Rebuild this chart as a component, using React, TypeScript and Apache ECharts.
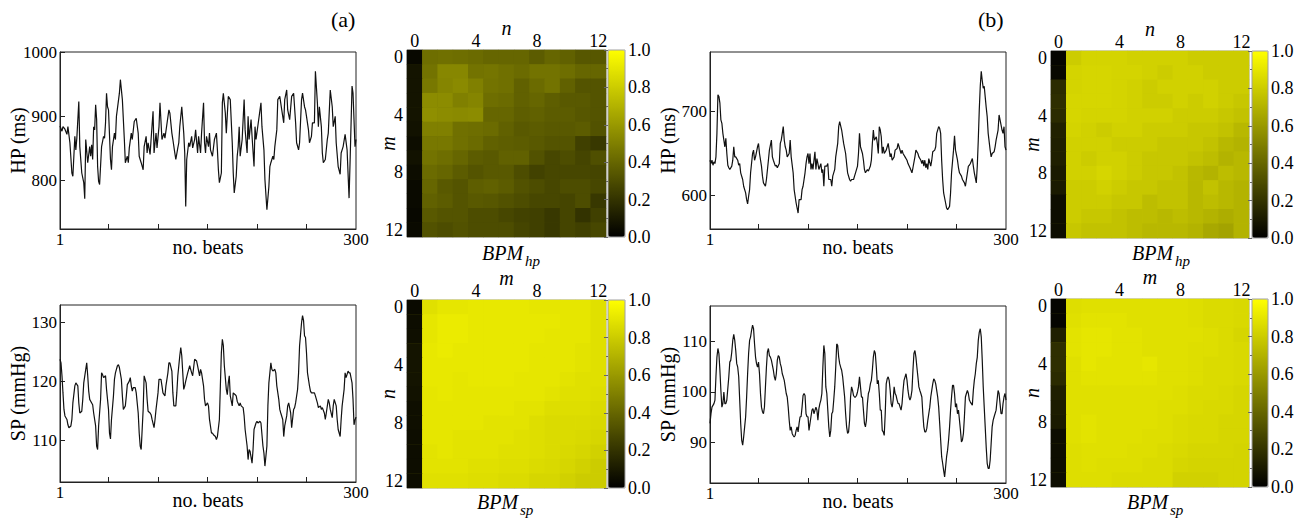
import React, { useEffect, useRef } from "react";
import * as echarts from "echarts";

const SERIF = "Liberation Serif";

// ---------- axis ticks / labels ----------
const BEAT_TICKS = [50, 100, 150, 200, 250];
const BEAT_LABELS = [1, 300];
const LAGS = ["0", "1", "2", "3", "4", "5", "6", "7", "8", "9", "10", "11", "12"];
const HP_A_TICKS = [800, 900, 1000];
const HP_B_TICKS = [600, 700];
const SP_A_TICKS = [110, 120, 130];
const SP_B_TICKS = [90, 100, 110];

// ---------- (a) HP series ----------
const HP_A_BEATS = [
  1, 3, 4, 6, 8, 9, 11, 13, 14, 16,
  17, 18, 20, 21, 23, 25, 26, 27, 29, 31,
  32, 33, 34, 35, 36, 37, 38, 39, 40, 41,
  43, 45, 46, 47, 48, 49, 50, 52, 53, 54,
  56, 57, 58, 61, 62, 64, 66, 67, 69, 70,
  71, 73, 74, 76, 78, 80, 81, 83, 85, 86,
  88, 89, 90, 92, 93, 95, 96, 98, 99, 101,
  102, 104, 106, 107, 111, 112, 114, 115, 117, 118,
  120, 121, 122, 124, 126, 127, 128, 129, 131, 132,
  134, 135, 137, 138, 140, 141, 143, 144, 146, 147,
  148, 149, 151, 152, 153, 155, 157, 159, 160, 161,
  162, 164, 165, 166, 168, 169, 171, 173, 175, 176,
  177, 179, 180, 181, 182, 183, 185, 187, 188, 190,
  191, 192, 194, 195, 197, 198, 199, 204, 205, 207,
  208, 210, 212, 213, 214, 216, 217, 218, 220, 221,
  223, 225, 227, 228, 230, 231, 233, 235, 237, 239,
  240, 242, 243, 245, 246, 248, 249, 250, 252, 253,
  255, 256, 258, 259, 261, 262, 263, 265, 266, 267,
  269, 271, 272, 274, 276, 277, 279, 280, 282, 284,
  285, 287, 289, 291, 293, 294, 296, 297, 299, 300,
];
const HP_A_MS = [
  885, 877, 884, 880, 872, 884, 859, 812, 807, 869,
  848, 866, 923, 853, 812, 797, 772, 864, 828, 853,
  838, 856, 833, 884, 879, 918, 895, 822, 799, 794,
  853, 869, 866, 890, 936, 915, 910, 833, 817, 853,
  874, 864, 900, 936, 957, 926, 864, 828, 838, 828,
  851, 874, 864, 892, 897, 874, 838, 828, 817, 853,
  869, 843, 859, 841, 864, 908, 843, 874, 851, 884,
  921, 864, 874, 866, 910, 905, 874, 864, 843, 833,
  851, 859, 884, 915, 874, 843, 760, 833, 859, 853,
  869, 851, 864, 879, 843, 869, 843, 874, 921, 859,
  843, 869, 853, 874, 848, 838, 864, 874, 848, 817,
  797, 812, 921, 936, 905, 874, 931, 926, 859, 812,
  781, 807, 838, 853, 884, 838, 864, 926, 879, 843,
  900, 864, 895, 869, 822, 884, 864, 921, 884, 848,
  802, 755, 791, 822, 828, 838, 833, 853, 879, 926,
  931, 910, 890, 926, 941, 910, 895, 931, 936, 890,
  859, 848, 859, 926, 936, 915, 910, 900, 879, 859,
  869, 890, 890, 970, 921, 884, 915, 884, 843, 828,
  833, 864, 874, 941, 915, 884, 900, 859, 822, 810,
  843, 853, 872, 848, 773, 828, 947, 936, 853, 864,
];

// ---------- (b) HP series ----------
const HP_B_BEATS = [
  1, 2, 3, 4, 5, 6, 7, 8, 9, 10,
  11, 12, 13, 14, 15, 16, 17, 18, 19, 20,
  21, 23, 24, 25, 26, 27, 29, 30, 31, 32,
  34, 35, 37, 38, 39, 40, 41, 42, 44, 45,
  46, 47, 49, 50, 51, 53, 54, 55, 57, 58,
  60, 61, 63, 64, 65, 67, 68, 69, 71, 72,
  73, 74, 75, 76, 77, 78, 79, 81, 82, 83,
  85, 86, 88, 90, 91, 93, 94, 95, 97, 98,
  99, 100, 101, 102, 103, 104, 105, 107, 108, 109,
  110, 111, 113, 114, 115, 116, 117, 119, 120, 121,
  123, 124, 125, 127, 128, 130, 131, 132, 134, 135,
  136, 138, 139, 140, 142, 143, 144, 146, 147, 148,
  150, 151, 152, 153, 155, 156, 157, 158, 160, 161,
  163, 164, 165, 166, 167, 169, 170, 171, 172, 173,
  174, 175, 176, 177, 179, 180, 181, 183, 184, 185,
  187, 188, 190, 191, 192, 194, 195, 196, 198, 200,
  201, 203, 205, 206, 208, 209, 211, 212, 214, 215,
  216, 217, 218, 219, 220, 221, 222, 224, 225, 226,
  228, 229, 230, 232, 233, 234, 235, 236, 237, 239,
  240, 241, 243, 244, 245, 247, 248, 249, 251, 252,
  253, 255, 256, 258, 259, 260, 262, 263, 264, 266,
  267, 268, 270, 271, 272, 273, 274, 275, 276, 277,
  278, 280, 281, 282, 284, 285, 286, 288, 289, 290,
  292, 293, 294, 296, 297, 298, 299, 300,
];
const HP_B_MS = [
  642, 638, 642, 636, 640, 638, 646, 674, 720, 718,
  710, 690, 686, 674, 666, 658, 668, 650, 636, 633,
  631, 635, 642, 658, 646, 646, 642, 636, 638, 627,
  619, 611, 603, 595, 590, 599, 607, 627, 650, 654,
  642, 646, 658, 662, 650, 635, 623, 615, 611, 619,
  642, 654, 666, 646, 642, 635, 636, 633, 638, 662,
  666, 674, 682, 666, 658, 654, 646, 650, 666, 646,
  627, 607, 591, 579, 595, 595, 607, 611, 627, 638,
  646, 650, 638, 650, 631, 638, 631, 652, 631, 644,
  638, 631, 638, 627, 631, 611, 635, 635, 638, 619,
  619, 611, 623, 631, 646, 662, 682, 688, 678, 670,
  662, 650, 638, 627, 619, 617, 619, 619, 623, 627,
  635, 650, 674, 658, 650, 642, 631, 627, 631, 629,
  635, 642, 662, 678, 666, 670, 662, 650, 682, 678,
  670, 650, 658, 650, 654, 658, 662, 646, 650, 642,
  646, 654, 656, 662, 658, 650, 654, 650, 646, 642,
  638, 633, 627, 633, 646, 654, 650, 646, 642, 638,
  642, 635, 642, 633, 638, 631, 644, 635, 642, 652,
  654, 658, 674, 682, 680, 674, 642, 619, 603, 591,
  585, 583, 587, 603, 627, 654, 671, 654, 642, 633,
  627, 623, 619, 615, 611, 619, 635, 636, 638, 644,
  635, 627, 615, 635, 666, 702, 730, 748, 737, 728,
  730, 705, 694, 674, 654, 646, 650, 652, 658, 666,
  678, 696, 690, 678, 674, 682, 658, 654,
];

// ---------- (a) SP series ----------
const SP_A_BEATS = [
  1, 2, 3, 4, 5, 6, 8, 9, 10, 12,
  13, 14, 16, 17, 19, 20, 21, 23, 24, 25,
  27, 28, 29, 30, 31, 33, 34, 35, 37, 38,
  39, 40, 42, 43, 44, 45, 47, 48, 50, 51,
  52, 53, 55, 56, 57, 59, 60, 61, 63, 64,
  65, 67, 68, 69, 71, 72, 73, 74, 75, 77,
  78, 80, 81, 82, 83, 85, 86, 88, 89, 90,
  92, 93, 94, 96, 97, 98, 100, 101, 103, 104,
  105, 107, 108, 110, 111, 112, 114, 115, 116, 118,
  119, 120, 122, 123, 124, 126, 127, 128, 130, 131,
  132, 134, 135, 136, 137, 139, 140, 142, 143, 144,
  146, 147, 148, 150, 151, 152, 154, 155, 156, 158,
  159, 160, 162, 163, 164, 165, 166, 167, 169, 170,
  171, 172, 173, 175, 176, 178, 179, 180, 182, 183,
  184, 186, 187, 188, 190, 191, 192, 193, 195, 196,
  197, 199, 200, 201, 203, 204, 206, 207, 208, 210,
  211, 212, 214, 215, 216, 218, 219, 220, 222, 223,
  224, 226, 227, 228, 230, 231, 232, 234, 235, 237,
  238, 239, 241, 242, 243, 245, 246, 247, 248, 249,
  250, 251, 253, 254, 255, 257, 258, 259, 261, 262,
  264, 265, 266, 268, 269, 270, 272, 273, 274, 276,
  277, 278, 280, 281, 282, 284, 285, 286, 288, 289,
  290, 292, 293, 294, 296, 297, 298, 299, 300,
];
const SP_A_MMHG = [
  123.8, 123.2, 121, 118.1, 115.3, 114.2, 113.6, 112.7, 112.2, 112.5,
  113.6, 116.4, 119.3, 119.8, 119.3, 116.4, 114.7, 115, 117, 119.8,
  122.1, 123.2, 121, 118.4, 117, 116.4, 116.1, 114.7, 112.5, 109.1,
  108.5, 112.5, 117, 121.5, 121.2, 120.7, 121, 118.7, 115.3, 111.3,
  110.3, 113.6, 117.6, 120.4, 121.5, 122.7, 122.9, 122.4, 120.4, 117.6,
  115.3, 115.9, 117.6, 119.5, 120.1, 120.7, 119.3, 118.4, 119, 119,
  118.1, 114.7, 111.3, 109.1, 108.5, 115.3, 121, 119.8, 117, 115,
  114.7, 114.4, 113.6, 112.2, 113.6, 115.3, 118.1, 120.4, 120.4, 119.3,
  118.1, 117.6, 119.3, 121.5, 123.2, 123.2, 121.8, 118.1, 115.9, 115.9,
  118.1, 121, 124.4, 125.8, 124.4, 118.7, 119.3, 120.1, 121.5, 122.1,
  122.7, 121.5, 121, 122.4, 123.8, 123.5, 122.7, 121, 122.1, 121.5,
  119.3, 117, 115.9, 116.4, 115.9, 113.6, 111.3, 111.3, 111, 110.7,
  110.2, 110.7, 113.6, 119.3, 124.9, 127.2, 126.1, 122.7, 118.7, 117.8,
  119.8, 121, 117.6, 115.9, 118.1, 117.8, 117.6, 116.7, 115.9, 116.4,
  115.9, 115.6, 114.2, 111.9, 109.1, 106.8, 108.5, 108.2, 106.2, 108.5,
  111.9, 113, 113.3, 113, 113.3, 113, 109.1, 107.9, 105.7, 109.1,
  115.9, 119.8, 123.2, 122.1, 121.8, 122.1, 121.5, 119.3, 117, 115.3,
  114.7, 113.6, 110.7, 112.5, 114.2, 115.9, 116.4, 114.7, 112.2, 115.3,
  115.6, 116.4, 118.7, 121.5, 126.1, 130, 131.2, 130.4, 127.8, 127.5,
  124.9, 121.5, 119.3, 118.4, 118.1, 118.1, 118.1, 117.6, 116.4, 115.6,
  115.9, 115.3, 115.6, 114.7, 113.6, 114.7, 117, 116.4, 115.3, 113.9,
  115.9, 117, 115.9, 113.6, 111.9, 110.7, 113.6, 115.9, 118.7, 121.5,
  120.7, 121.8, 121.5, 121.5, 119.8, 117, 112.7, 113.5, 114,
];

// ---------- (b) SP series ----------
const SP_B_BEATS = [
  1, 2, 3, 5, 6, 7, 8, 9, 10, 11, 12, 13, 14, 15, 16, 17, 18,
  20, 21, 22, 23, 24, 25, 26, 27, 28, 29,
  30, 31, 32, 33, 34, 35, 36, 37, 38, 39,
  40, 41, 42, 43, 44, 45, 46, 47, 48, 49,
  50, 51, 52, 53, 54, 55, 56, 57, 58, 59,
  60, 61, 62, 63, 64, 65, 66, 67, 68, 69,
  70, 71, 72, 73, 74, 75, 76, 77, 78, 79,
  80, 81, 82, 83, 84, 85, 86, 87, 88, 89,
  90, 91, 92, 93, 94, 95, 96, 97, 98, 99,
  100, 101, 102, 103, 104, 105, 106,
  108, 109,
  110, 111, 112, 113, 114, 115, 116, 117, 118, 119,
  120, 121, 122, 123, 124, 125, 126, 127, 128, 129,
  130, 131, 132, 133, 134, 135, 136, 137, 138, 139,
  140, 141, 142, 143, 144, 145, 146, 147, 148, 149,
  150, 151, 152, 153, 154, 155, 156, 157, 158, 159,
  160, 161, 162, 163, 164, 165, 166, 167, 168, 169,
  170, 171, 172, 173, 174, 175, 176, 177, 178, 179,
  180, 181, 182, 183, 184, 185, 186, 187, 188, 189,
  190, 191, 192, 193, 194, 195, 196, 197,
  199,
  200, 201, 202, 203, 204, 205, 206, 207, 208, 209,
  210, 211, 212, 213, 214, 215, 216, 217, 218, 219,
  220, 221, 222, 223, 224, 225, 226, 227, 228, 229,
  230, 231, 232, 233, 234, 235, 236, 237, 238, 239,
  240, 241, 242, 243, 244, 245, 246, 247, 248, 249,
  250, 251, 252, 253, 254, 255, 256, 257, 258, 259,
  260, 261, 262, 263, 264, 265, 266, 267, 268, 269,
  270, 271, 272, 273, 274, 275, 276, 277, 278, 279,
  280, 281, 282, 283, 284, 285, 286, 287, 288,
  290, 291, 292, 293, 294, 295, 296, 297, 298, 299, 300,
];
const SP_B_MMHG = [
  93.8, 95.7, 97, 97.7, 98.4, 103, 106.9, 108.6, 107.6, 104.3, 100.3, 97, 97.7, 100, 97.7, 97.7, 98.4,
  103, 105.9, 106.3, 107.9, 110.2, 111.4, 110.2, 108.2, 105.6, 104.9,
  103, 98.4, 93.8, 90.5, 89.5, 91.1, 93.1, 95.1, 99, 103.6,
  107.6, 110.2, 110.9, 112.2, 113.2, 112.5, 109.5, 106.9, 105.6, 104.9,
  105.9, 103.6, 99.7, 97, 96.1, 95.7, 97, 101, 104.9, 107.9,
  108.6, 107.2, 106.9, 106.3, 105.3, 104.3, 103, 102.3, 103.6, 106.3,
  107.2, 106.9, 105.6, 104.9, 103.6, 103, 102.3, 101, 99.7, 99,
  97, 94.4, 92.4, 93.1, 91.8, 91.4, 91.1, 91.4, 92.4, 93.1,
  92.1, 93.8, 95.1, 95.1, 97, 99.3, 99.7, 99.3, 95.7, 95.1,
  95.1, 92.4, 93.8, 95.1, 96.4, 96.7, 95.7,
  97, 96.4,
  94.4, 96.7, 97.7, 98.4, 99.7, 104.9, 109.2, 107.6, 101, 99.7,
  96.4, 93.1, 91.1, 92.4, 95.7, 96.1, 98.4, 101, 104.9, 109.5,
  109.2, 106.9, 105.6, 104.9, 104.3, 103, 101, 99, 95.7, 93.1,
  91.8, 92.1, 94.4, 99, 101, 100.3, 99.3, 99, 99, 99.3,
  100, 101, 103, 101, 99, 99, 96.4, 93.8, 93.1, 94.4,
  97.7, 99.7, 100.3, 101.6, 102.3, 104.3, 106.9, 108.2, 107.6, 104.9,
  101.6, 102.3, 99.7, 96.4, 96.4, 92.4, 92.1, 91.4, 95.7, 101.6,
  102.6, 103, 102.3, 100.3, 97.7, 97, 98.4, 101, 99.7, 99.3,
  98.4, 97.7, 97.7, 97, 96.4, 97.7, 100.3, 102.3,
  103.6,
  102.3, 100.3, 99, 98.4, 99, 100.3, 104.3, 107.6, 108.2, 106.9,
  104.9, 103, 101, 100.3, 99.7, 99, 95.7, 93.1, 92.1, 92.1,
  92.8, 94.4, 95.7, 97, 99, 100.3, 101.6, 102.6, 102.3, 101.6,
  100.3, 99, 97, 93.8, 90.5, 87.2, 85.9, 84.5, 83.2, 85.2,
  87.2, 88.5, 90.5, 93.1, 96.4, 99, 101.3, 101.3, 99.7, 97,
  97.7, 95.7, 96.4, 94.4, 92.4, 90.1, 90.5, 91.8, 95.1, 99,
  99.7, 100.3, 99.7, 98.4, 98, 97.7, 97.4, 100.3, 102.3, 103.6,
  105.6, 106.9, 110.2, 111.8, 112.5, 110.9, 106.3, 101, 97, 93.1,
  89.1, 85.9, 84.9, 84.9, 86.5, 89.8, 93.1, 94.4, 95.1,
  96.4, 98.4, 100.3, 99.7, 97.7, 95.7, 95.7, 97.7, 99, 99.7, 98.4,
];

// ---------- BPM matrices (rows = vertical lag, columns = horizontal lag) ----------
const BPM_HP_A = [
  [0.03, 0.43, 0.44, 0.43, 0.42, 0.40, 0.40, 0.40, 0.36, 0.40, 0.38, 0.34, 0.34],
  [0.08, 0.45, 0.53, 0.53, 0.45, 0.46, 0.44, 0.42, 0.45, 0.45, 0.43, 0.40, 0.40],
  [0.08, 0.47, 0.52, 0.54, 0.50, 0.45, 0.44, 0.38, 0.42, 0.45, 0.38, 0.33, 0.33],
  [0.08, 0.55, 0.55, 0.50, 0.52, 0.43, 0.42, 0.38, 0.40, 0.37, 0.35, 0.35, 0.33],
  [0.08, 0.56, 0.55, 0.54, 0.55, 0.40, 0.40, 0.37, 0.38, 0.36, 0.36, 0.34, 0.33],
  [0.07, 0.50, 0.50, 0.44, 0.43, 0.42, 0.38, 0.35, 0.36, 0.35, 0.35, 0.36, 0.32],
  [0.05, 0.47, 0.47, 0.44, 0.42, 0.38, 0.37, 0.36, 0.35, 0.33, 0.33, 0.25, 0.22],
  [0.07, 0.45, 0.43, 0.40, 0.36, 0.35, 0.38, 0.38, 0.32, 0.28, 0.30, 0.27, 0.31],
  [0.05, 0.42, 0.40, 0.36, 0.33, 0.35, 0.35, 0.30, 0.26, 0.28, 0.28, 0.28, 0.27],
  [0.04, 0.40, 0.35, 0.33, 0.37, 0.38, 0.36, 0.32, 0.30, 0.28, 0.30, 0.30, 0.28],
  [0.04, 0.38, 0.36, 0.33, 0.35, 0.34, 0.32, 0.30, 0.28, 0.28, 0.27, 0.30, 0.22],
  [0.03, 0.35, 0.33, 0.33, 0.30, 0.30, 0.28, 0.26, 0.25, 0.22, 0.27, 0.20, 0.25],
  [0.04, 0.32, 0.30, 0.32, 0.30, 0.30, 0.30, 0.27, 0.25, 0.22, 0.27, 0.25, 0.28],
];
const BPM_HP_B = [
  [0.02, 0.80, 0.83, 0.83, 0.83, 0.82, 0.82, 0.82, 0.82, 0.80, 0.80, 0.80, 0.80],
  [0.03, 0.83, 0.84, 0.84, 0.83, 0.83, 0.82, 0.80, 0.82, 0.82, 0.80, 0.80, 0.80],
  [0.17, 0.83, 0.84, 0.84, 0.83, 0.82, 0.80, 0.82, 0.82, 0.82, 0.82, 0.80, 0.80],
  [0.18, 0.84, 0.84, 0.84, 0.83, 0.82, 0.80, 0.80, 0.82, 0.80, 0.82, 0.80, 0.78],
  [0.17, 0.84, 0.83, 0.83, 0.83, 0.82, 0.82, 0.82, 0.80, 0.80, 0.80, 0.78, 0.76],
  [0.13, 0.83, 0.82, 0.80, 0.82, 0.82, 0.80, 0.80, 0.80, 0.78, 0.78, 0.76, 0.72],
  [0.12, 0.82, 0.82, 0.82, 0.80, 0.80, 0.80, 0.78, 0.78, 0.78, 0.76, 0.72, 0.70],
  [0.12, 0.82, 0.80, 0.82, 0.82, 0.80, 0.78, 0.78, 0.78, 0.76, 0.74, 0.70, 0.72],
  [0.10, 0.82, 0.82, 0.84, 0.82, 0.80, 0.78, 0.78, 0.76, 0.72, 0.70, 0.74, 0.72],
  [0.10, 0.80, 0.80, 0.82, 0.80, 0.78, 0.78, 0.76, 0.76, 0.72, 0.76, 0.72, 0.70],
  [0.05, 0.80, 0.80, 0.80, 0.78, 0.78, 0.74, 0.76, 0.76, 0.72, 0.74, 0.72, 0.70],
  [0.05, 0.80, 0.78, 0.78, 0.76, 0.74, 0.74, 0.72, 0.74, 0.72, 0.70, 0.68, 0.70],
  [0.05, 0.78, 0.76, 0.76, 0.76, 0.74, 0.72, 0.72, 0.72, 0.70, 0.66, 0.64, 0.70],
];
const BPM_SP_A = [
  [0.04, 0.88, 0.90, 0.90, 0.91, 0.91, 0.91, 0.91, 0.90, 0.90, 0.90, 0.90, 0.88],
  [0.05, 0.90, 0.92, 0.92, 0.91, 0.91, 0.91, 0.91, 0.91, 0.91, 0.90, 0.90, 0.88],
  [0.06, 0.90, 0.92, 0.92, 0.91, 0.91, 0.91, 0.91, 0.91, 0.90, 0.90, 0.90, 0.88],
  [0.08, 0.91, 0.92, 0.91, 0.91, 0.91, 0.91, 0.91, 0.90, 0.90, 0.90, 0.89, 0.88],
  [0.08, 0.91, 0.91, 0.91, 0.91, 0.91, 0.91, 0.91, 0.90, 0.90, 0.90, 0.89, 0.88],
  [0.08, 0.91, 0.91, 0.90, 0.91, 0.91, 0.91, 0.90, 0.90, 0.90, 0.89, 0.88, 0.88],
  [0.07, 0.90, 0.91, 0.90, 0.90, 0.90, 0.90, 0.90, 0.90, 0.89, 0.88, 0.88, 0.87],
  [0.06, 0.90, 0.90, 0.90, 0.90, 0.90, 0.90, 0.89, 0.89, 0.87, 0.87, 0.87, 0.86],
  [0.06, 0.90, 0.90, 0.90, 0.90, 0.89, 0.89, 0.89, 0.87, 0.86, 0.86, 0.86, 0.85],
  [0.05, 0.90, 0.90, 0.89, 0.89, 0.89, 0.89, 0.88, 0.87, 0.86, 0.86, 0.85, 0.84],
  [0.05, 0.89, 0.90, 0.89, 0.89, 0.89, 0.88, 0.88, 0.87, 0.86, 0.85, 0.84, 0.82],
  [0.05, 0.89, 0.89, 0.89, 0.88, 0.88, 0.87, 0.87, 0.86, 0.85, 0.84, 0.82, 0.80],
  [0.05, 0.88, 0.88, 0.88, 0.87, 0.87, 0.86, 0.86, 0.84, 0.84, 0.82, 0.80, 0.80],
];
const BPM_SP_B = [
  [0.02, 0.87, 0.88, 0.88, 0.88, 0.88, 0.88, 0.88, 0.88, 0.87, 0.86, 0.86, 0.85],
  [0.02, 0.88, 0.89, 0.89, 0.89, 0.88, 0.88, 0.88, 0.88, 0.87, 0.86, 0.86, 0.85],
  [0.12, 0.89, 0.90, 0.90, 0.89, 0.89, 0.88, 0.88, 0.88, 0.88, 0.87, 0.86, 0.84],
  [0.18, 0.89, 0.90, 0.90, 0.89, 0.89, 0.88, 0.88, 0.88, 0.87, 0.87, 0.86, 0.85],
  [0.18, 0.88, 0.90, 0.89, 0.89, 0.89, 0.90, 0.88, 0.88, 0.87, 0.86, 0.86, 0.85],
  [0.17, 0.88, 0.89, 0.89, 0.89, 0.89, 0.89, 0.88, 0.88, 0.87, 0.86, 0.86, 0.85],
  [0.12, 0.88, 0.88, 0.88, 0.88, 0.88, 0.88, 0.88, 0.87, 0.86, 0.86, 0.85, 0.84],
  [0.11, 0.88, 0.88, 0.88, 0.88, 0.88, 0.88, 0.87, 0.87, 0.86, 0.85, 0.85, 0.84],
  [0.10, 0.88, 0.89, 0.88, 0.88, 0.88, 0.88, 0.87, 0.86, 0.85, 0.85, 0.84, 0.84],
  [0.05, 0.88, 0.89, 0.88, 0.88, 0.88, 0.87, 0.87, 0.86, 0.85, 0.85, 0.84, 0.84],
  [0.05, 0.87, 0.88, 0.88, 0.88, 0.87, 0.87, 0.86, 0.85, 0.84, 0.84, 0.84, 0.83],
  [0.05, 0.87, 0.88, 0.87, 0.87, 0.87, 0.86, 0.86, 0.84, 0.83, 0.83, 0.83, 0.83],
  [0.05, 0.87, 0.87, 0.87, 0.86, 0.86, 0.86, 0.86, 0.82, 0.82, 0.82, 0.83, 0.83],
];

// ---------- layout ----------
type Rect = [number, number, number, number];
const LINE_PANELS = [
  { rect: [60, 52, 296, 177] as Rect, beats: HP_A_BEATS, values: HP_A_MS, min: 725, max: 1000, ticks: HP_A_TICKS, name: "HP (ms)" },
  { rect: [710, 52, 296, 177] as Rect, beats: HP_B_BEATS, values: HP_B_MS, min: 560, max: 771, ticks: HP_B_TICKS, name: "HP (ms)" },
  { rect: [60, 305, 296, 177] as Rect, beats: SP_A_BEATS, values: SP_A_MMHG, min: 103, max: 133, ticks: SP_A_TICKS, name: "SP (mmHg)" },
  { rect: [710, 306, 296, 177] as Rect, beats: SP_B_BEATS, values: SP_B_MMHG, min: 82, max: 117, ticks: SP_B_TICKS, name: "SP (mmHg)" },
];
const HEAT_PANELS = [
  { rect: [407, 50, 199, 187] as Rect, cb: [608, 50, 17, 187] as Rect, matrix: BPM_HP_A, top: "n", left: "m", sub: "hp", lbl: [482, 259], bg: "#5a5a0c" },
  { rect: [1051, 51, 198, 187] as Rect, cb: [1252, 51, 16, 187] as Rect, matrix: BPM_HP_B, top: "n", left: "m", sub: "hp", lbl: [1132, 259], bg: "#cccc00" },
  { rect: [407, 300, 199, 188] as Rect, cb: [608, 300, 17, 188] as Rect, matrix: BPM_SP_A, top: "m", left: "n", sub: "sp", lbl: [477, 508], bg: "#e4e400" },
  { rect: [1051, 299, 198, 188] as Rect, cb: [1252, 299, 16, 188] as Rect, matrix: BPM_SP_B, top: "m", left: "n", sub: "sp", lbl: [1127, 508], bg: "#dede00" },
];

function buildOption() {
  const grid: any[] = [];
  const xAxis: any[] = [];
  const yAxis: any[] = [];
  const series: any[] = [];
  const visualMap: any[] = [];
  const graphic: any[] = [];
  const ink = "#111";

  LINE_PANELS.forEach((p) => {
    const gi = grid.length;
    grid.push({ left: p.rect[0], top: p.rect[1], width: p.rect[2], height: p.rect[3], show: true, borderColor: "#222", borderWidth: 1 });
    const xi = xAxis.length;
    xAxis.push({
      type: "value", gridIndex: gi, min: 1, max: 300,
      name: "no. beats", nameLocation: "middle", nameGap: 8, nameMoveOverlap: false,
      nameTextStyle: { fontFamily: SERIF, fontSize: 20, color: "#000" },
      axisLine: { show: true, lineStyle: { color: "#222" } },
      axisTick: { show: true, inside: true, length: 5, customValues: BEAT_TICKS, lineStyle: { color: "#222" } },
      axisLabel: { customValues: BEAT_LABELS, formatter: (v: number) => String(v), fontFamily: SERIF, fontSize: 17, color: "#000", margin: 2 },
      splitLine: { show: false },
    });
    const yi = yAxis.length;
    yAxis.push({
      type: "value", gridIndex: gi, min: p.min, max: p.max,
      name: p.name, nameLocation: "middle", nameGap: 32, nameRotate: 90, nameMoveOverlap: false,
      nameTextStyle: { fontFamily: SERIF, fontSize: 20, color: "#000" },
      axisLine: { show: true, lineStyle: { color: "#222" } },
      axisTick: { show: true, inside: true, length: 5, customValues: p.ticks, lineStyle: { color: "#222" } },
      axisLabel: { customValues: p.ticks, formatter: (v: number) => String(v), fontFamily: SERIF, fontSize: 17, color: "#000", margin: 3 },
      splitLine: { show: false },
    });
    series.push({
      type: "line", xAxisIndex: xi, yAxisIndex: yi,
      data: p.beats.map((b, i) => [b, p.values[i]]),
      showSymbol: false, symbol: "none", silent: true,
      lineStyle: { color: ink, width: 1.2 },
    });
  });

  HEAT_PANELS.forEach((p) => {
    const gi = grid.length;
    grid.push({ left: p.rect[0], top: p.rect[1], width: p.rect[2], height: p.rect[3], show: true, borderColor: "#a0a0a0", borderWidth: 1, backgroundColor: p.bg });
    const tick = { show: true, inside: true, interval: 1, alignWithLabel: true, length: 3, lineStyle: { color: "#777" } };
    const xi = xAxis.length;
    xAxis.push({
      type: "category", gridIndex: gi, data: LAGS, position: "top",
      name: p.top, nameLocation: "middle", nameGap: 12, nameMoveOverlap: false,
      nameTextStyle: { fontFamily: SERIF, fontSize: 20, fontStyle: "italic", color: "#000" },
      axisLine: { show: false }, axisTick: tick,
      axisLabel: { interval: 3, fontFamily: SERIF, fontSize: 18, color: "#000", margin: 0 },
      splitLine: { show: false },
    });
    xAxis.push({
      type: "category", gridIndex: gi, data: LAGS, position: "bottom",
      axisLine: { show: false }, axisTick: tick, axisLabel: { show: false }, splitLine: { show: false },
    });
    const yi = yAxis.length;
    yAxis.push({
      type: "category", gridIndex: gi, data: LAGS, inverse: true, position: "left",
      name: p.left, nameLocation: "middle", nameGap: 9, nameRotate: 90, nameMoveOverlap: false,
      nameTextStyle: { fontFamily: SERIF, fontSize: 20, fontStyle: "italic", color: "#000" },
      axisLine: { show: false }, axisTick: tick,
      axisLabel: { interval: 3, fontFamily: SERIF, fontSize: 18, color: "#000", margin: 4 },
      splitLine: { show: false },
    });
    yAxis.push({
      type: "category", gridIndex: gi, data: LAGS, inverse: true, position: "right",
      axisLine: { show: false }, axisTick: tick, axisLabel: { show: false }, splitLine: { show: false },
    });
    const si = series.length;
    series.push({
      type: "heatmap", xAxisIndex: xi, yAxisIndex: yi, silent: true,
      data: p.matrix.flatMap((row, r) => row.map((v, c) => [c, r, v])),
    });
    visualMap.push({
      type: "continuous", min: 0, max: 1, seriesIndex: si, show: true,
      calculable: false, hoverLink: false, orient: "vertical", padding: 0,
      left: p.cb[0], top: p.cb[1], itemWidth: p.cb[2], itemHeight: p.cb[3],
      inRange: { color: ["#000000", "#ffff00"] },
    });
    graphic.push({
      type: "text", left: p.lbl[0], top: p.lbl[1] - 16, silent: true,
      style: { text: "BPM", fontFamily: SERIF, fontSize: 20, fontStyle: "italic", fill: "#000" },
    });
    graphic.push({
      type: "text", left: p.lbl[0] + 43, top: p.lbl[1] - 6, silent: true,
      style: { text: p.sub, fontFamily: SERIF, fontSize: 15, fontStyle: "italic", fill: "#000" },
    });
  });

  // colour bars (axes drawn over the visualMap bars)
  HEAT_PANELS.forEach((p) => {
    const gi = grid.length;
    grid.push({ left: p.cb[0], top: p.cb[1], width: p.cb[2], height: p.cb[3], show: true, borderColor: "#a0a0a0", borderWidth: 1, z: 5 });
    xAxis.push({ type: "value", gridIndex: gi, show: false, min: 0, max: 1 });
    yAxis.push({
      type: "value", gridIndex: gi, min: 0, max: 1, interval: 0.2, position: "right", z: 6,
      axisLine: { show: false },
      axisTick: { show: true, inside: true, length: 4, lineStyle: { color: "#666" } },
      minorTick: { show: true, splitNumber: 2, length: 2, lineStyle: { color: "#666" } },
      axisLabel: { formatter: (v: number) => v.toFixed(1), fontFamily: SERIF, fontSize: 18, color: "#000", margin: 3 },
      splitLine: { show: false },
    });
  });

  graphic.push({ type: "text", left: 331, top: 8, silent: true, style: { text: "(a)", fontFamily: SERIF, fontSize: 22, fill: "#000" } });
  graphic.push({ type: "text", left: 978, top: 8, silent: true, style: { text: "(b)", fontFamily: SERIF, fontSize: 22, fill: "#000" } });

  return {
    animation: false,
    backgroundColor: "#ffffff",
    textStyle: { fontFamily: SERIF },
    grid, xAxis, yAxis, series, visualMap, graphic,
  };
}

export default function App() {
  const ref = useRef<HTMLDivElement>(null);
  useEffect(() => {
    if (!ref.current) return;
    const chart = echarts.init(ref.current, null, { renderer: "svg" });
    chart.setOption(buildOption());
    return () => chart.dispose();
  }, []);
  return <div ref={ref} style={{ position: "absolute", left: 0, top: 0, width: 1303, height: 518 }} />;
}
